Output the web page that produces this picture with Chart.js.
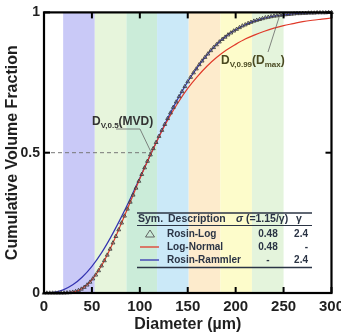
<!DOCTYPE html>
<html>
<head>
<meta charset="utf-8">
<script src="https://cdn.jsdelivr.net/npm/chart.js@4"></script>
<style>
  html, body { margin: 0; padding: 0; overflow: hidden; background: #fff; }
  #wrap { width: 349px; height: 335px; }
</style>
</head>
<body>
<div id="wrap"><canvas id="cvfChart"></canvas></div>
<script>
// diametros (um) e fracoes
const lineD = [0, 10, 20, 30, 40, 50, 60, 70, 80, 90, 100, 110, 120, 130, 140, 150, 160, 170, 180, 190, 200, 210, 220, 230, 240, 250, 260, 270, 280, 290, 300];
const rosinRammler = [0, 0.002, 0.011, 0.029, 0.057, 0.095, 0.143, 0.201, 0.266, 0.336, 0.410, 0.485, 0.558, 0.629, 0.694, 0.753, 0.804, 0.848, 0.885, 0.915, 0.938, 0.956, 0.970, 0.980, 0.987, 0.991, 0.995, 0.997, 0.998, 0.999, 1.0];
const logNormal = [0, 0, 0.0002, 0.003, 0.016, 0.047, 0.097, 0.164, 0.242, 0.324, 0.407, 0.485, 0.557, 0.622, 0.679, 0.729, 0.771, 0.808, 0.839, 0.865, 0.886, 0.905, 0.920, 0.933, 0.944, 0.953, 0.960, 0.967, 0.972, 0.976, 0.980];

const rosinLogD = [0, 3, 6, 9, 12, 15, 18, 21, 24, 27, 30, 33, 36, 39, 42, 45, 48, 51, 54, 57, 60, 63, 66, 69, 72, 75, 78, 81, 84, 87, 90, 93, 96, 99, 102, 105, 108, 111, 114, 117, 120, 123, 126, 129, 132, 135, 138, 141, 144, 147, 150, 153, 156, 159, 162, 165, 168, 171, 174, 177, 180, 183, 186, 189, 192, 195, 198, 201, 204, 207, 210, 213, 216, 219, 222, 225, 228, 231, 234, 237, 240, 243, 246, 249, 252, 255, 258, 261, 264, 267, 270, 273, 276, 279, 282, 285, 288, 291, 294, 297, 300];
const rosinLog = [0, 0, 0, 0, 0, 0, 0.0001, 0.0002, 0.0007, 0.0015, 0.003, 0.0054, 0.009, 0.014, 0.0205, 0.0287, 0.0388, 0.0506, 0.0643, 0.0797, 0.0968, 0.1153, 0.1353, 0.1565, 0.1787, 0.2017, 0.2255, 0.2498, 0.2745, 0.2994, 0.324, 0.3493, 0.374, 0.3986, 0.4228, 0.4465, 0.4698, 0.4925, 0.5147, 0.5367, 0.5585, 0.580, 0.601, 0.622, 0.642, 0.662, 0.681, 0.700, 0.718, 0.736, 0.753, 0.769, 0.785, 0.799, 0.814, 0.827, 0.840, 0.852, 0.864, 0.875, 0.885, 0.895, 0.904, 0.912, 0.920, 0.927, 0.934, 0.940, 0.946, 0.952, 0.956, 0.961, 0.965, 0.969, 0.972, 0.975, 0.978, 0.981, 0.983, 0.985, 0.987, 0.988, 0.990, 0.991, 0.992, 0.993, 0.994, 0.995, 0.996, 0.996, 0.997, 0.997, 0.998, 0.998, 0.998, 0.999, 0.999, 0.999, 0.999, 1, 1];

// faixas coloridas de fundo
const bandEdges = [20, 53, 86, 118, 151, 184, 217, 250];
const bandColors = ['#c9c9f7', '#e7f5dc', '#cbecd9', '#cbe9f8', '#fdebcc', '#fdfccb', '#e4f4dc'];

const mvd = 112;      // D_V,0.5
const dv99 = 246;     // D_V,0.99

const xTicks = [0, 50, 100, 150, 200, 250, 300];
const yTicks = [0, 0.5, 1];

const legendRows = [
    { sym: 'tri', name: 'Rosin-Log', sigma: '0.48', gamma: '2.4' },
    { sym: '#e03a2a', name: 'Log-Normal', sigma: '0.48', gamma: '-' },
    { sym: '#3333b0', name: 'Rosin-Rammler', sigma: '-', gamma: '2.4' }
];

const FONT = "'Liberation Sans', Arial, sans-serif";
const INK = '#1f1f1f';

function pts(xs, ys) {
    return xs.map((x, i) => ({ x: x, y: ys[i] }));
}

function subText(ctx, x, y, parts) {
    // parts: [texto, subscrito?]
    let cx = x;
    parts.forEach(p => {
        ctx.font = p[1] ? 'bold 8px ' + FONT : 'bold 12px ' + FONT;
        ctx.fillText(p[0], cx, p[1] ? y + 3 : y);
        cx += ctx.measureText(p[0]).width;
    });
}

const decorPlugin = {
    id: 'decor',
    beforeDatasetsDraw(chart) {
        const ctx = chart.ctx;
        const xs = chart.scales.x, ys = chart.scales.y;
        const a = chart.chartArea;
        ctx.save();
        for (let i = 0; i < bandColors.length; i++) {
            const x0 = xs.getPixelForValue(bandEdges[i]);
            const x1 = xs.getPixelForValue(bandEdges[i + 1]);
            ctx.fillStyle = bandColors[i];
            ctx.fillRect(x0, a.top, x1 - x0, a.bottom - a.top);
        }
        // linha tracejada em 0.5
        ctx.strokeStyle = '#777';
        ctx.lineWidth = 1;
        ctx.setLineDash([4, 3]);
        ctx.beginPath();
        ctx.moveTo(a.left, ys.getPixelForValue(0.5));
        ctx.lineTo(xs.getPixelForValue(mvd), ys.getPixelForValue(0.5));
        ctx.stroke();
        ctx.setLineDash([]);
        ctx.restore();
    },
    afterDatasetsDraw(chart) {
        const ctx = chart.ctx;
        const xs = chart.scales.x, ys = chart.scales.y;
        const a = chart.chartArea;
        ctx.save();

        // anotacoes
        ctx.textBaseline = 'alphabetic';
        ctx.fillStyle = '#333';
        subText(ctx, 92, 125, [['D', false], ['V,0.5', true], ['(MVD)', false]]);
        ctx.strokeStyle = '#666';
        ctx.lineWidth = 0.8;
        ctx.beginPath();
        ctx.moveTo(116, 129);
        ctx.lineTo(140, 129);
        ctx.lineTo(xs.getPixelForValue(mvd), ys.getPixelForValue(0.5));
        ctx.stroke();

        ctx.fillStyle = '#4a4a22';
        subText(ctx, 221, 64, [['D', false], ['V,0.99', true], ['(D', false], ['max', true], [')', false]]);
        ctx.beginPath();
        ctx.moveTo(268, 52);
        ctx.lineTo(xs.getPixelForValue(dv99), ys.getPixelForValue(0.99));
        ctx.stroke();

        // tabela-legenda
        const L = 137, R = 312;
        ctx.strokeStyle = '#2b3445';
        ctx.lineWidth = 1.5;
        ctx.beginPath(); ctx.moveTo(L, 213); ctx.lineTo(R, 213); ctx.stroke();
        ctx.beginPath(); ctx.moveTo(L, 267.5); ctx.lineTo(R, 267.5); ctx.stroke();
        ctx.lineWidth = 1;
        ctx.beginPath(); ctx.moveTo(L, 225.5); ctx.lineTo(R, 225.5); ctx.stroke();

        ctx.fillStyle = '#2b3445';
        ctx.textBaseline = 'middle';
        ctx.font = 'bold 10.5px ' + FONT;
        ctx.textAlign = 'left';
        ctx.fillText('Sym.', 138, 219.5);
        ctx.fillText('Description', 168, 219.5);
        ctx.font = 'italic bold 10.5px ' + FONT;
        ctx.fillText('\u03C3', 236, 219.5);
        let sw = ctx.measureText('\u03C3 ').width;
        ctx.font = 'bold 10.5px ' + FONT;
        ctx.fillText('(=1.15/\u03B3)', 236 + sw, 219.5);
        ctx.fillText('\u03B3', 296, 219.5);

        legendRows.forEach((r, i) => {
            const y = 234 + i * 13;
            if (r.sym === 'tri') {
                ctx.strokeStyle = '#555';
                ctx.lineWidth = 0.9;
                ctx.beginPath();
                ctx.moveTo(150, y - 4);
                ctx.lineTo(154.5, y + 3);
                ctx.lineTo(145.5, y + 3);
                ctx.closePath();
                ctx.stroke();
            } else {
                ctx.strokeStyle = r.sym;
                ctx.lineWidth = 1.3;
                ctx.beginPath();
                ctx.moveTo(140, y);
                ctx.lineTo(159, y);
                ctx.stroke();
            }
            ctx.font = 'bold 10px ' + FONT;
            ctx.textAlign = 'left';
            ctx.fillText(r.name, 167, y);
            ctx.textAlign = 'center';
            ctx.fillText(r.sigma, 268, y);
            ctx.textAlign = 'right';
            ctx.fillText(r.gamma, 308, y);
        });

        // moldura e marcas para dentro
        ctx.strokeStyle = '#000';
        ctx.lineWidth = 2.2;
        ctx.strokeRect(a.left, a.top, a.right - a.left, a.bottom - a.top);
        ctx.lineWidth = 2;
        xTicks.forEach(v => {
            const px = xs.getPixelForValue(v);
            ctx.beginPath(); ctx.moveTo(px, a.bottom); ctx.lineTo(px, a.bottom - 6); ctx.stroke();
            ctx.beginPath(); ctx.moveTo(px, a.top); ctx.lineTo(px, a.top + 6); ctx.stroke();
        });
        yTicks.forEach(v => {
            const py = ys.getPixelForValue(v);
            ctx.beginPath(); ctx.moveTo(a.left, py); ctx.lineTo(a.left + 6, py); ctx.stroke();
            ctx.beginPath(); ctx.moveTo(a.right, py); ctx.lineTo(a.right - 6, py); ctx.stroke();
        });
        ctx.restore();
    }
};

function initChart() {
    const ctx = document.getElementById('cvfChart');
    new Chart(ctx, {
        type: 'line',
        data: {
            datasets: [
                {
                    label: 'Rosin-Log',
                    data: pts(rosinLogD, rosinLog),
                    showLine: false,
                    pointStyle: 'triangle',
                    pointRadius: 2.2,
                    pointBorderWidth: 0.9,
                    pointBorderColor: '#3f3f3f',
                    pointBackgroundColor: 'rgba(0,0,0,0)',
                    clip: 4
                },
                {
                    label: 'Log-Normal',
                    data: pts(lineD, logNormal),
                    borderColor: '#e03a2a',
                    borderWidth: 1.2,
                    pointRadius: 0,
                    cubicInterpolationMode: 'monotone'
                },
                {
                    label: 'Rosin-Rammler',
                    data: pts(lineD, rosinRammler),
                    borderColor: '#3333b0',
                    borderWidth: 1.2,
                    pointRadius: 0,
                    cubicInterpolationMode: 'monotone'
                }
            ]
        },
        options: {
            responsive: true,
            maintainAspectRatio: false,
            animation: false,
            layout: { padding: { left: 0, top: 9, right: 15, bottom: 0 } },
            plugins: {
                legend: { display: false },
                tooltip: { enabled: false }
            },
            scales: {
                x: {
                    type: 'linear',
                    min: 0,
                    max: 300,
                    afterFit: s => { s.height = 42; },
                    afterBuildTicks: s => { s.ticks = xTicks.map(v => ({ value: v })); },
                    grid: { display: false, drawTicks: false },
                    border: { display: false },
                    ticks: {
                        padding: 5,
                        color: INK,
                        maxRotation: 0,
                        autoSkip: false,
                        font: { family: FONT, size: 15, weight: 'bold' }
                    },
                    title: {
                        display: true,
                        text: 'Diameter (\u00B5m)',
                        color: INK,
                        padding: { top: 0, bottom: 1 },
                        font: { family: FONT, size: 16, weight: 'bold' }
                    }
                },
                y: {
                    min: 0,
                    max: 1,
                    afterFit: s => { s.width = 44; },
                    afterBuildTicks: s => { s.ticks = yTicks.map(v => ({ value: v })); },
                    grid: { display: false, drawTicks: false },
                    border: { display: false },
                    ticks: {
                        padding: 4,
                        color: INK,
                        autoSkip: false,
                        font: { family: FONT, size: 14, weight: 'bold' },
                        callback: v => String(v)
                    },
                    title: {
                        display: true,
                        text: 'Cumulative Volume Fraction',
                        color: INK,
                        padding: { top: 3, bottom: 0 },
                        font: { family: FONT, size: 16, weight: 'bold' }
                    }
                }
            }
        },
        plugins: [decorPlugin]
    });
}

document.addEventListener('DOMContentLoaded', initChart);
</script>
</body>
</html>
